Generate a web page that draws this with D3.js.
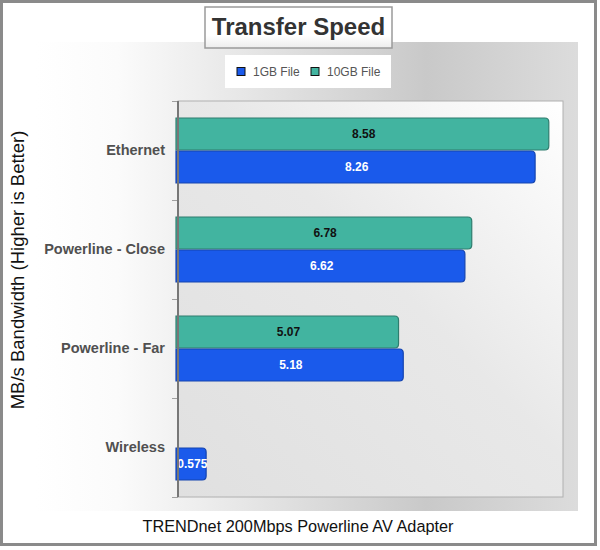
<!DOCTYPE html>
<html>
<head>
<meta charset="utf-8">
<script src="https://cdn.jsdelivr.net/npm/d3@7"></script>
<style>
  html, body { margin: 0; padding: 0; background: #fff; }
  #chart { width: 600px; height: 550px; }
</style>
</head>
<body>
<div id="chart"></div>
<script>
(function() {
  var categories = ['Ethernet', 'Powerline - Close', 'Powerline - Far', 'Wireless'];
  var seriesNames = ['10GB File', '1GB File'];
  var legendOrder = ['1GB File', '10GB File'];
  var values10GB = [8.58, 6.78, 5.07, null];
  var values1GB = [8.26, 6.62, 5.18, 0.575];
  var labels10GB = ['8.58', '6.78', '5.07', ''];
  var labels1GB = ['8.26', '6.62', '5.18', '0.575'];

  var FONT = '"Liberation Sans", Arial, sans-serif';
  var colors = { '1GB File': '#1a5aeb', '10GB File': '#42b4a0' };
  var strokes = { '1GB File': '#1444b0', '10GB File': '#2f7d6e' };
  var labelFill = { '1GB File': '#fff', '10GB File': '#111' };

  var rows = categories.map(function(c, i) {
    return { cat: c, vals: [
      { s: '10GB File', v: values10GB[i], label: labels10GB[i] },
      { s: '1GB File', v: values1GB[i], label: labels1GB[i] }
    ] };
  });

  var w = 600, h = 550;
  var plot = { left: 178, top: 101, right: 563, bottom: 497 };

  var svg = d3.select('#chart').append('svg').attr('width', w).attr('height', h);
  var defs = svg.append('defs');

  var bgGrad = defs.append('linearGradient').attr('id', 'bgGrad')
    .attr('x1', '0%').attr('y1', '0%').attr('x2', '100%').attr('y2', '0%');
  bgGrad.append('stop').attr('offset', '0%').attr('stop-color', '#ffffff');
  bgGrad.append('stop').attr('offset', '15%').attr('stop-color', '#fbfbfb');
  bgGrad.append('stop').attr('offset', '72%').attr('stop-color', '#c9c9c9');
  bgGrad.append('stop').attr('offset', '100%').attr('stop-color', '#dcdcdc');

  var plotGrad = defs.append('linearGradient').attr('id', 'plotGrad')
    .attr('x1', '0%').attr('y1', '100%').attr('x2', '100%').attr('y2', '0%');
  plotGrad.append('stop').attr('offset', '0%').attr('stop-color', '#e0e0e0');
  plotGrad.append('stop').attr('offset', '55%').attr('stop-color', '#e8e8e8');
  plotGrad.append('stop').attr('offset', '100%').attr('stop-color', '#ffffff');

  var titleGrad = defs.append('linearGradient').attr('id', 'titleGrad')
    .attr('x1', '0%').attr('y1', '0%').attr('x2', '0%').attr('y2', '100%');
  titleGrad.append('stop').attr('offset', '0%').attr('stop-color', '#ffffff');
  titleGrad.append('stop').attr('offset', '70%').attr('stop-color', '#ffffff');
  titleGrad.append('stop').attr('offset', '100%').attr('stop-color', '#ececec');

  // Outer frame
  svg.append('rect').attr('x', 1.5).attr('y', 1.5).attr('width', 594).attr('height', 543)
    .attr('fill', '#fff').attr('stroke', '#8a8a8a').attr('stroke-width', 3);

  // Background panel
  svg.append('rect').attr('x', 36).attr('y', 42).attr('width', 542).attr('height', 469)
    .attr('fill', 'url(#bgGrad)');

  // Plot area
  svg.append('rect').attr('x', plot.left).attr('y', plot.top)
    .attr('width', plot.right - plot.left).attr('height', plot.bottom - plot.top)
    .attr('fill', 'url(#plotGrad)').attr('stroke', '#b0b0b0').attr('stroke-width', 1);

  // Scales
  var y0 = d3.scaleBand().domain(categories).range([plot.top, plot.bottom]).padding(0);
  var y1 = d3.scaleBand().domain(seriesNames).range([0, y0.bandwidth()]).paddingInner(0).paddingOuter(0.5);
  var x = d3.scaleLinear().domain([0, 8.9]).range([182, plot.right]);

  // Band boundary ticks
  var bounds = categories.map(function(c) { return y0(c); }).concat([plot.bottom]);
  svg.append('g').selectAll('line').data(bounds).join('line')
    .attr('x1', plot.left - 6).attr('x2', plot.left)
    .attr('y1', function(d) { return d + 0.5; }).attr('y2', function(d) { return d + 0.5; })
    .attr('stroke', '#a0a0a0').attr('stroke-width', 1);

  // Bars
  var groups = svg.append('g').selectAll('g').data(rows).join('g')
    .attr('transform', function(d) { return 'translate(0,' + y0(d.cat) + ')'; });

  var bars = groups.selectAll('g').data(function(d) { return d.vals.filter(function(v) { return v.v != null; }); })
    .join('g');

  bars.append('path')
    .attr('d', function(d) {
      var x0 = plot.left - 2, x1 = x(d.v) - 0.5, yt = y1(d.s) + 0.5, yb = y1(d.s) + y1.bandwidth() - 0.5, r = 4;
      return 'M' + x0 + ',' + yt + 'H' + (x1 - r) + 'Q' + x1 + ',' + yt + ' ' + x1 + ',' + (yt + r) +
        'V' + (yb - r) + 'Q' + x1 + ',' + yb + ' ' + (x1 - r) + ',' + yb + 'H' + x0 + 'Z';
    })
    .attr('fill', function(d) { return colors[d.s]; })
    .attr('stroke', function(d) { return strokes[d.s]; })
    .attr('stroke-width', 1.2);

  bars.append('text')
    .attr('x', function(d) { return (plot.left + x(d.v)) / 2; })
    .attr('y', function(d) { return y1(d.s) + y1.bandwidth() / 2; })
    .attr('dy', '0.35em').attr('text-anchor', 'middle')
    .attr('font-family', FONT).attr('font-weight', 'bold').attr('font-size', '12px')
    .attr('fill', function(d) { return labelFill[d.s]; })
    .text(function(d) { return d.label; });

  // Y axis line
  svg.append('line').attr('x1', plot.left).attr('x2', plot.left)
    .attr('y1', plot.top).attr('y2', plot.bottom)
    .attr('stroke', '#777').attr('stroke-width', 2);

  // Category labels
  svg.append('g').attr('transform', 'translate(' + (plot.left - 13) + ',0)')
    .call(d3.axisLeft(y0).tickSize(0).tickPadding(0))
    .call(function(g) { g.select('.domain').remove(); })
    .call(function(g) { g.selectAll('.tick text').attr('fill', '#505050').attr('font-size', '14.5px')
      .attr('font-weight', 'bold').attr('font-family', FONT); });

  // Axis titles
  svg.append('text').attr('transform', 'rotate(-90)').attr('x', -270).attr('y', 24)
    .attr('text-anchor', 'middle').attr('fill', '#111').attr('font-size', '18.5px').attr('font-family', FONT)
    .text('MB/s Bandwidth (Higher is Better)');

  svg.append('text').attr('x', 298).attr('y', 532)
    .attr('text-anchor', 'middle').attr('fill', '#111').attr('font-size', '16.3px').attr('font-family', FONT)
    .text('TRENDnet 200Mbps Powerline AV Adapter');

  // Title box
  svg.append('rect').attr('x', 205).attr('y', 7).attr('width', 187).attr('height', 41)
    .attr('fill', 'url(#titleGrad)').attr('stroke', '#9a9a9a').attr('stroke-width', 1.5);
  svg.append('text').attr('x', 298.5).attr('y', 35)
    .attr('text-anchor', 'middle').attr('fill', '#333').attr('font-size', '24px')
    .attr('font-weight', 'bold').attr('font-family', FONT)
    .text('Transfer Speed');

  // Legend
  svg.append('rect').attr('x', 225).attr('y', 55).attr('width', 166).attr('height', 33).attr('fill', '#fff');
  var lx = d3.scalePoint().domain(legendOrder).range([237, 311]);
  var leg = svg.append('g').selectAll('g').data(legendOrder).join('g')
    .attr('transform', function(d) { return 'translate(' + lx(d) + ',72)'; });
  leg.append('rect').attr('x', 0).attr('y', -4.5).attr('width', 8).attr('height', 8)
    .attr('fill', function(d) { return colors[d]; }).attr('stroke', '#111').attr('stroke-width', 1);
  leg.append('text').attr('x', 16).attr('y', 0).attr('dy', '0.35em')
    .attr('fill', '#555').attr('font-size', '12px').attr('font-family', FONT)
    .text(function(d) { return d; });
})();
</script>
</body>
</html>
